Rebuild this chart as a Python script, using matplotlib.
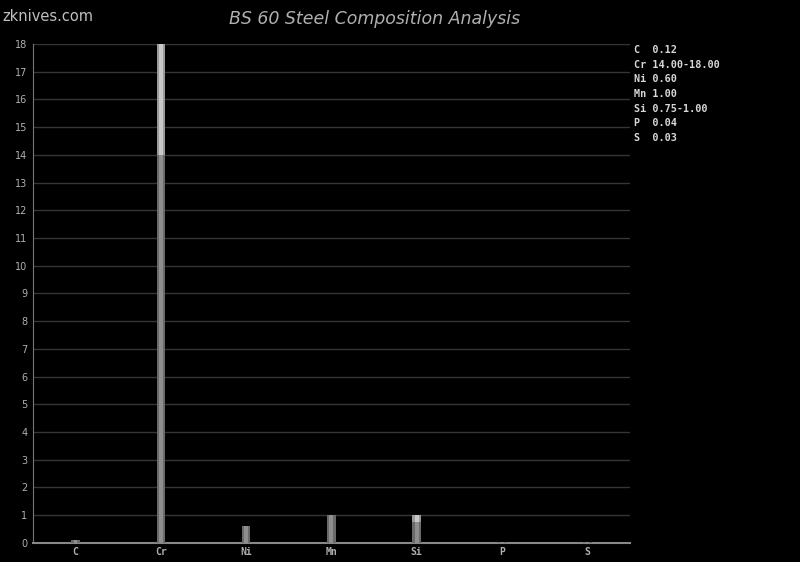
import numpy as np
import matplotlib.pyplot as plt

# Composition data (min / max, percent)
elements = ["C", "Cr", "Ni", "Mn", "Si", "P", "S"]
min_vals = [0.12, 14.00, 0.60, 1.00, 0.75, 0.04, 0.03]
max_vals = [0.12, 18.00, 0.60, 1.00, 1.00, 0.04, 0.03]
legend_vals = ["0.12", "14.00-18.00", "0.60", "1.00", "0.75-1.00", "0.04", "0.03"]

fig = plt.figure(figsize=(8, 5.62), dpi=100, facecolor="black")
ax = fig.add_axes([0.041, 0.034, 0.7465, 0.8877], facecolor="black")

x = np.arange(len(elements))
mins = np.array(min_vals)
rng = np.array(max_vals) - mins

# base part (min value) - darker, with lighter centre to fake the shading
ax.bar(x, mins, width=0.1, color="#6a6a6a", zorder=3)
ax.bar(x, mins, width=0.045, color="#8e8e8e", zorder=4)
# range part (min -> max) - lighter
ax.bar(x, rng, bottom=mins, width=0.1, color="#9a9a9a", zorder=3)
ax.bar(x, rng, bottom=mins, width=0.045, color="#c8c8c8", zorder=4)

ax.set_xlim(-0.5, len(elements) - 0.5)
ax.set_ylim(0, 18)
ax.set_yticks(range(0, 19))
ax.set_xticks(x)
ax.set_xticklabels(elements)

mono = "DejaVu Sans Mono"
for lab in ax.get_xticklabels():
    lab.set_family(mono)
    lab.set_weight("bold")
ax.tick_params(axis="both", colors="#b0b0b0", labelsize=7, length=0, pad=4)
ax.tick_params(axis="x", pad=3)

ax.grid(axis="y", color="#353535", linewidth=1, zorder=0)
for side in ["top", "right"]:
    ax.spines[side].set_visible(False)
ax.spines["left"].set_color("#777777")
ax.spines["bottom"].set_color("#888888")
ax.spines["bottom"].set_linewidth(1.5)

fig.text(0.468, 0.967, "BS 60 Steel Composition Analysis", color="#b0b0b0",
         fontsize=12.5, style="italic", ha="center", va="center")
fig.text(0.003, 0.971, "zknives.com", color="#c0c0c0", fontsize=10.5,
         family=["Liberation Sans Narrow", "DejaVu Sans"], ha="left", va="center")

# legend text on the right
for i, (el, v) in enumerate(zip(elements, legend_vals)):
    fig.text(0.7925, 1 - (50 + i * 14.7) / 562, f"{el:<2} {v}", color="#d8d8d8",
             fontsize=7.3, family=mono, weight="bold", ha="left", va="center")

fig.savefig("out.png", dpi=100, facecolor="black")
